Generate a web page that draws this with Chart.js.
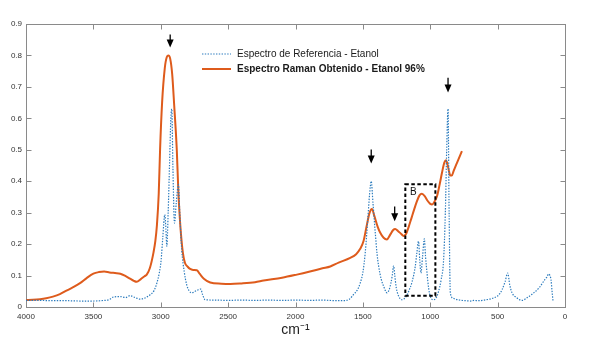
<!DOCTYPE html>
<html>
<head>
<meta charset="utf-8">
<script src="https://cdn.jsdelivr.net/npm/chart.js@4/dist/chart.umd.min.js"></script>
<style>
html,body{margin:0;padding:0;background:#fff;}
#wrap{width:589px;height:344px;}
</style>
</head>
<body>
<div id="wrap"><canvas id="c" width="589" height="344"></canvas></div>
<script>
// ---- Data (wavenumber cm-1, intensity) ----
const refLabel = 'Espectro de Referencia - Etanol';
const ramanLabel = 'Espectro Raman Obtenido - Etanol 96%';

const refWn = [4000,3900,3800,3700,3600,3500,3420,3380,3350,3300,3260,3228,3190,3153,3110,3079,3050,3029,3010,2997,2985,2970,2962,2955,2945,2935,2925,2918,2910,2898,2885,2869,2857,2844,2825,2807,2790,2770,2745,2721,2703,2690,2671,2600,2500,2400,2300,2200,2100,2000,1900,1800,1700,1650,1600,1569,1540,1520,1500,1483,1465,1450,1438,1425,1408,1395,1383,1365,1346,1321,1305,1292,1282,1272,1263,1254,1235,1210,1185,1160,1135,1111,1100,1087,1078,1069,1057,1044,1035,1024,1012,1000,975,955,938,920,901,888,878,868,860,851,830,814,780,740,700,677,640,600,560,529,500,480,467,445,425,410,393,360,318,280,232,190,158,135,121,110,104,96,89];
const refVal = [0.021,0.021,0.020,0.020,0.019,0.019,0.021,0.024,0.032,0.033,0.030,0.036,0.030,0.025,0.030,0.039,0.052,0.076,0.110,0.150,0.220,0.294,0.250,0.193,0.300,0.450,0.600,0.630,0.450,0.267,0.330,0.390,0.280,0.180,0.110,0.070,0.052,0.045,0.050,0.055,0.057,0.040,0.023,0.022,0.021,0.022,0.021,0.022,0.021,0.022,0.021,0.022,0.020,0.020,0.025,0.040,0.055,0.076,0.110,0.170,0.270,0.360,0.400,0.330,0.236,0.170,0.130,0.090,0.066,0.045,0.055,0.076,0.100,0.131,0.100,0.066,0.035,0.023,0.030,0.050,0.080,0.130,0.170,0.209,0.150,0.108,0.160,0.217,0.160,0.108,0.060,0.034,0.023,0.030,0.050,0.085,0.150,0.300,0.500,0.630,0.300,0.045,0.028,0.025,0.022,0.020,0.019,0.021,0.020,0.022,0.025,0.029,0.035,0.045,0.055,0.080,0.108,0.070,0.045,0.030,0.021,0.030,0.045,0.062,0.082,0.095,0.105,0.098,0.087,0.050,0.018];

const ramanWn = [4000,3950,3896,3850,3800,3748,3700,3650,3599,3550,3500,3460,3420,3380,3340,3300,3260,3228,3200,3178,3150,3120,3104,3080,3054,3040,3029,3015,3005,2990,2970,2955,2943,2930,2915,2900,2881,2869,2855,2836,2820,2800,2782,2760,2732,2710,2680,2633,2550,2483,2400,2300,2237,2100,1990,1900,1800,1742,1680,1594,1550,1520,1495,1470,1450,1433,1415,1390,1371,1346,1322,1297,1275,1260,1240,1215,1198,1180,1160,1140,1124,1100,1080,1062,1040,1020,1000,987,970,950,930,913,895,883,870,860,851,840,827,800,765];
const ramanVal = [0.022,0.023,0.025,0.028,0.033,0.041,0.052,0.063,0.076,0.092,0.106,0.111,0.113,0.110,0.108,0.106,0.098,0.090,0.083,0.080,0.088,0.098,0.103,0.125,0.173,0.210,0.257,0.360,0.500,0.650,0.760,0.795,0.800,0.790,0.740,0.640,0.500,0.364,0.260,0.173,0.140,0.128,0.121,0.118,0.117,0.105,0.090,0.078,0.074,0.073,0.075,0.079,0.084,0.093,0.103,0.112,0.123,0.129,0.141,0.156,0.168,0.185,0.210,0.262,0.300,0.312,0.290,0.255,0.236,0.220,0.215,0.230,0.245,0.248,0.242,0.232,0.226,0.232,0.255,0.282,0.304,0.335,0.355,0.360,0.352,0.338,0.328,0.326,0.334,0.352,0.390,0.427,0.460,0.467,0.450,0.430,0.418,0.418,0.432,0.460,0.496];

// ---- Annotations (data units) ----
const arrowWn  = [2930, 1438, 1264, 868];
const arrowTop = [0.867, 0.501, 0.320, 0.729];
const arrowTip = [0.825, 0.456, 0.273, 0.682];
const boxWn  = [1185, 962];   // left, right
const boxVal = [0.390, 0.036]; // top, bottom
const boxText = 'B';
const boxTextPos = [1150, 0.365];

const yTicks = [0,0.1,0.2,0.3,0.4,0.5,0.6,0.7,0.8,0.9];
const xTicks = [4000,3500,3000,2500,2000,1500,1000,500,0];

const FONT = '"Liberation Sans", Arial, Helvetica, sans-serif';
const AXIS_COL = '#8a8a8a';
const BLUE = '#2b7bbd';
const ORANGE = '#DE5B1C';

const toPts = (xs, ys) => xs.map((x, i) => ({x: x, y: ys[i]}));

const framePlugin = {
  id: 'frame',
  beforeDatasetsDraw(chart) {
    const {ctx, chartArea: a, scales: {x, y}} = chart;
    ctx.save();
    ctx.strokeStyle = AXIS_COL;
    ctx.lineWidth = 1;
    const L = Math.round(a.left) + 0.5, R = Math.round(a.right) + 0.5;
    const T = Math.round(a.top) + 0.5, B = Math.round(a.bottom) + 0.5;
    ctx.strokeRect(L, T, R - L, B - T);
    ctx.beginPath();
    const tl = 5;
    xTicks.forEach(v => {
      const px = Math.round(x.getPixelForValue(v)) + 0.5;
      ctx.moveTo(px, B); ctx.lineTo(px, B - tl);
      ctx.moveTo(px, T); ctx.lineTo(px, T + tl);
    });
    yTicks.forEach(v => {
      const py = Math.round(y.getPixelForValue(v)) + 0.5;
      ctx.moveTo(L, py); ctx.lineTo(L + tl, py);
      ctx.moveTo(R, py); ctx.lineTo(R - tl, py);
    });
    ctx.stroke();
    ctx.restore();
  },
  afterDatasetsDraw(chart) {
    const {ctx, scales: {x, y}} = chart;
    ctx.save();
    // arrows
    ctx.fillStyle = '#000';
    ctx.strokeStyle = '#000';
    arrowWn.forEach((w, i) => {
      const px = x.getPixelForValue(w);
      const pt = y.getPixelForValue(arrowTop[i]);
      const pb = y.getPixelForValue(arrowTip[i]);
      ctx.lineWidth = 1.3;
      ctx.beginPath();
      ctx.moveTo(px, pt); ctx.lineTo(px, pb - 5);
      ctx.stroke();
      ctx.beginPath();
      ctx.moveTo(px - 3.5, pb - 8);
      ctx.lineTo(px + 3.5, pb - 8);
      ctx.lineTo(px, pb);
      ctx.closePath();
      ctx.fill();
    });
    // dashed box
    const bl = x.getPixelForValue(boxWn[0]), br = x.getPixelForValue(boxWn[1]);
    const bt = y.getPixelForValue(boxVal[0]), bb = y.getPixelForValue(boxVal[1]);
    ctx.lineWidth = 2;
    ctx.setLineDash([3.5, 2.5]);
    ctx.strokeRect(bl, bt, br - bl, bb - bt);
    ctx.setLineDash([]);
    ctx.font = '10px ' + FONT;
    ctx.textBaseline = 'middle';
    ctx.textAlign = 'left';
    ctx.fillStyle = '#111';
    ctx.fillText(boxText, x.getPixelForValue(boxTextPos[0]), y.getPixelForValue(boxTextPos[1]));
    // legend
    const ds = chart.data.datasets;
    const lx0 = 202, lx1 = 231, tx = 237;
    const rows = [54, 69];
    ds.forEach((d, i) => {
      const yy = rows[i];
      ctx.strokeStyle = d.borderColor;
      ctx.lineWidth = d.borderWidth;
      ctx.setLineDash(d.borderDash || []);
      ctx.beginPath();
      ctx.moveTo(lx0, yy); ctx.lineTo(lx1, yy);
      ctx.stroke();
      ctx.setLineDash([]);
      ctx.fillStyle = '#1a1a1a';
      ctx.font = (i === 1 ? 'bold ' : '') + '10px ' + FONT;
      ctx.fillText(d.label, tx, yy + 0.5);
    });
    ctx.restore();
  }
};

new Chart(document.getElementById('c'), {
  type: 'line',
  data: {
    datasets: [
      {
        label: refLabel,
        data: toPts(refWn, refVal),
        borderColor: BLUE,
        borderWidth: 1.2,
        borderDash: [1.4, 1.4],
        pointRadius: 0,
        cubicInterpolationMode: 'monotone',
        fill: false
      },
      {
        label: ramanLabel,
        data: toPts(ramanWn, ramanVal),
        borderColor: ORANGE,
        borderWidth: 2,
        pointRadius: 0,
        cubicInterpolationMode: 'monotone',
        fill: false
      }
    ]
  },
  options: {
    responsive: false,
    devicePixelRatio: 1,
    animation: false,
    layout: {padding: {top: 24, right: 24, left: 0, bottom: 0}},
    plugins: {legend: {display: false}, tooltip: {enabled: false}},
    scales: {
      x: {
        type: 'linear',
        reverse: true,
        min: 0, max: 4000,
        afterFit: s => { s.height = 37; },
        afterBuildTicks: s => { s.ticks = xTicks.map(v => ({value: v})); },
        ticks: {font: {family: FONT, size: 8}, color: '#333', padding: 5, maxRotation: 0,
          callback: v => String(v)},
        grid: {display: false, drawTicks: false},
        border: {display: false},
        title: {display: true, text: 'cm⁻¹', font: {family: FONT, size: 14}, color: '#222', padding: {top: 0, bottom: 5}}
      },
      y: {
        min: 0, max: 0.9,
        afterFit: s => { s.width = 26; },
        afterBuildTicks: s => { s.ticks = yTicks.map(v => ({value: v})); },
        ticks: {font: {family: FONT, size: 8}, color: '#333', padding: 4,
          callback: v => (Math.round(v * 10) / 10).toString()},
        grid: {display: false, drawTicks: false},
        border: {display: false}
      }
    }
  },
  plugins: [framePlugin]
});
</script>
</body>
</html>
